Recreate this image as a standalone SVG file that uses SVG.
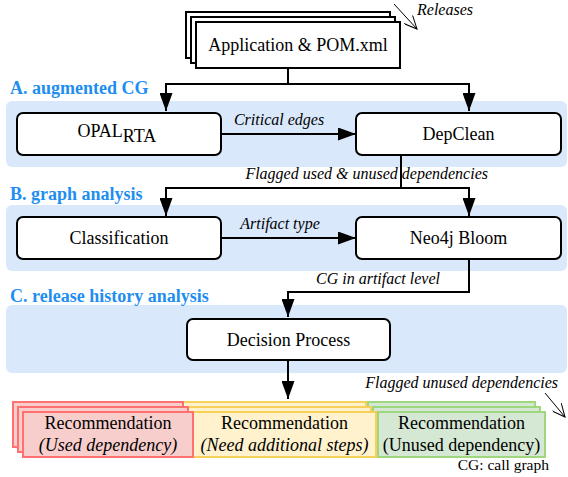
<svg xmlns="http://www.w3.org/2000/svg" width="568" height="477" viewBox="0 0 568 477" font-family="'Liberation Serif', 'DejaVu Serif', serif">
<defs>
<style>
text{font-family:'Liberation Serif','DejaVu Serif',serif}
.band{fill:#dae8fc;stroke:none}
.box{fill:#fff;stroke:#000;stroke-width:2}
.t{font-size:18px;fill:#000}
.c{text-anchor:middle}
.i{font-size:16px;font-style:italic;fill:#000}
.h{font-size:18px;font-weight:bold;fill:#1f8ef1}
.s{font-size:15.5px;fill:#000}
.ln{fill:none;stroke:#000;stroke-width:2}
.thin{fill:none;stroke:#000;stroke-width:1}
.red{fill:#f8cecc;stroke:#ff7070;stroke-width:2}
.yel{fill:#fff2cc;stroke:#f7d05a;stroke-width:2}
.grn{fill:#d5e8d4;stroke:#9fd77f;stroke-width:2}
</style>
<marker id="ah" markerUnits="userSpaceOnUse" markerWidth="18" markerHeight="13" refX="18" refY="6.5" orient="auto">
<path d="M0,0 L18,6.5 L0,13 z" fill="#000"/>
</marker>
<marker id="oh" markerUnits="userSpaceOnUse" markerWidth="14" markerHeight="12" refX="13" refY="6" orient="auto">
<path d="M0,0 L13,6 L0,12" fill="none" stroke="#000" stroke-width="1"/>
</marker>
</defs>

<g id="bands">
<rect class="band" x="6" y="101" width="561" height="66" rx="6"/>
<rect class="band" x="6" y="205" width="561" height="66" rx="6"/>
<rect class="band" x="6" y="305" width="561" height="68" rx="6"/>
<text class="h" x="10" y="94">A. augmented CG</text>
<text class="h" x="10" y="200">B. graph analysis</text>
<text class="h" x="10" y="302">C. release history analysis</text>
</g>

<g id="connectors">
<path class="ln" d="M288,68 V84 H166 V111" marker-end="url(#ah)"/>
<path class="ln" d="M288,84 H469 V111" marker-end="url(#ah)"/>
<path class="ln" d="M221,134 H356" marker-end="url(#ah)"/>
<path class="ln" d="M401,155 V188 H166 V216" marker-end="url(#ah)"/>
<path class="ln" d="M401,188 H469 V216" marker-end="url(#ah)"/>
<path class="ln" d="M221,238 H356" marker-end="url(#ah)"/>
<path class="ln" d="M469,259 V292 H288 V317" marker-end="url(#ah)"/>
<path class="ln" d="M288,360 V399" marker-end="url(#ah)"/>
<path class="thin" d="M394,4 L417,29" marker-end="url(#oh)"/>
<path class="thin" d="M545,393 L565,417" marker-end="url(#oh)"/>
<text class="i" x="417" y="15">Releases</text>
<text class="i c" x="279" y="125">Critical edges</text>
<text class="i" x="488" y="179" text-anchor="end">Flagged used &amp; unused dependencies</text>
<text class="i c" x="280" y="229">Artifact type</text>
<text class="i" x="440" y="284" text-anchor="end">CG in artifact level</text>
<text class="i" x="558" y="388" text-anchor="end">Flagged unused dependencies</text>
</g>

<g id="app">
<rect class="box" x="186" y="12" width="204" height="46"/>
<rect class="box" x="191" y="17" width="204" height="46"/>
<rect class="box" x="196" y="22" width="204" height="46"/>
<text class="t c" x="298" y="51">Application &amp; POM.xml</text>
</g>

<g id="opal">
<rect class="box" x="17" y="113" width="204" height="42" rx="6"/>
<text class="t" x="77.5" y="137">OPAL<tspan dy="5">RTA</tspan></text>
</g>

<g id="depclean">
<rect class="box" x="356" y="113" width="205" height="42" rx="6"/>
<text class="t c" x="458.5" y="140">DepClean</text>
</g>

<g id="classification">
<rect class="box" x="17" y="217" width="204" height="42" rx="6"/>
<text class="t c" x="119" y="244">Classification</text>
</g>

<g id="neo4j">
<rect class="box" x="356" y="217" width="205" height="42" rx="6"/>
<text class="t c" x="458.5" y="244">Neo4j Bloom</text>
</g>

<g id="decision">
<rect class="box" x="187" y="319" width="203" height="41" rx="6"/>
<text class="t c" x="288.5" y="346">Decision Process</text>
</g>

<g id="rec-unused">
<rect class="grn" x="368" y="402" width="167" height="45"/>
<rect class="grn" x="373" y="407" width="167" height="45"/>
<rect class="grn" x="378" y="412" width="167" height="45"/>
<text class="t c" x="461.5" y="429">Recommendation</text>
<text class="t c" x="461.5" y="451">(Unused dependency)</text>
</g>

<g id="rec-additional">
<rect class="yel" x="183" y="402" width="183" height="45"/>
<rect class="yel" x="188" y="407" width="183" height="45"/>
<rect class="yel" x="193" y="412" width="183" height="45"/>
<text class="t c" x="284.5" y="429">Recommendation</text>
<text class="t c" x="284.5" y="451" font-style="italic">(Need additional steps)</text>
</g>

<g id="rec-used">
<rect class="red" x="13" y="402" width="170" height="45"/>
<rect class="red" x="18" y="407" width="170" height="45"/>
<rect class="red" x="23" y="412" width="170" height="45"/>
<text class="t c" x="108" y="429">Recommendation</text>
<text class="t c" x="108" y="451" font-style="italic">(Used dependency)</text>
</g>

<g id="legend">
<text class="s" x="549" y="470" text-anchor="end">CG: call graph</text>
</g>
</svg>
